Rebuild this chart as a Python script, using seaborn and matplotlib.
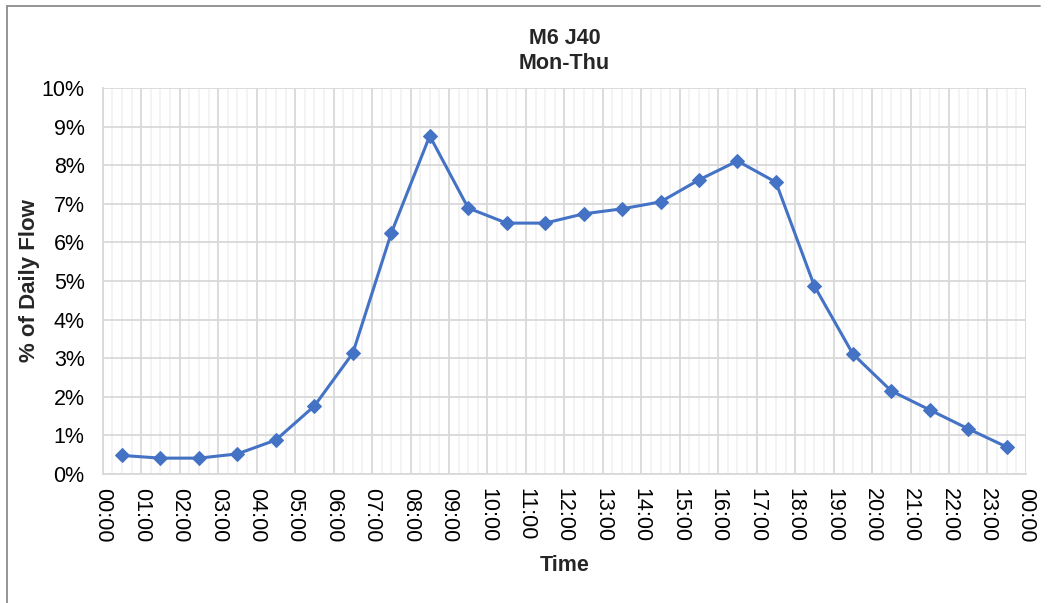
import matplotlib
matplotlib.use("Agg")
import matplotlib.pyplot as plt
import seaborn as sns
import pandas as pd
from matplotlib.ticker import MultipleLocator, FuncFormatter
from matplotlib.lines import Line2D

title = "M6 J40\nMon-Thu"
hours = [h + 0.5 for h in range(24)]
flow_pct = [0.48, 0.41, 0.41, 0.52, 0.88, 1.76, 3.13, 6.24, 8.76, 6.89, 6.50, 6.50,
            6.74, 6.87, 7.05, 7.62, 8.11, 7.56, 4.87, 3.11, 2.15, 1.66, 1.17, 0.70]
tick_hours = list(range(25))
tick_labels = [f"{h % 24:02d}:00" for h in tick_hours]

df = pd.DataFrame({"hour": hours, "flow": flow_pct})

sns.set_theme(style="white")
plt.rcParams['font.family'] = ['Liberation Sans', 'DejaVu Sans']

fig = plt.figure(figsize=(10.49, 6.03), dpi=100)
ax = fig.add_axes([0.098, 0.214, 0.880, 0.640])

sns.lineplot(data=df, x="hour", y="flow", ax=ax, color="#4472C4", marker="D",
             markersize=7.5, markeredgecolor="#4472C4", linewidth=2.2)

ax.set_xlim(0, 24)
ax.set_ylim(0, 10)
ax.set_xticks(tick_hours)
ax.set_xticklabels(tick_labels, rotation=-90, fontsize=15.5, color="#000000")
ax.xaxis.set_minor_locator(MultipleLocator(0.25))
ax.yaxis.set_major_locator(MultipleLocator(1))
ax.yaxis.set_major_formatter(FuncFormatter(lambda v, p: f"{int(round(v))}%"))
ax.tick_params(axis="y", labelsize=15.5, colors="#000000", length=0, pad=13)
ax.tick_params(axis="x", which="both", length=0, pad=10)

ax.grid(True, which="major", color="#D9D9D9", linewidth=1.3)
ax.grid(True, which="minor", axis="x", color="#F0F0F0", linewidth=1.1)
ax.set_axisbelow(True)
for s in ax.spines.values():
    s.set_visible(False)
ax.spines["left"].set_visible(True)
ax.spines["bottom"].set_visible(True)
ax.spines["left"].set_color("#D9D9D9")
ax.spines["bottom"].set_color("#D9D9D9")
ax.spines["left"].set_linewidth(1.3)
ax.spines["bottom"].set_linewidth(1.3)

ax.set_title(title, fontsize=15.5, fontweight="bold", pad=14, linespacing=1.25)
ax.set_xlabel("Time", fontsize=15.5, fontweight="bold", labelpad=9)
ax.set_ylabel("% of Daily Flow", fontsize=16, fontweight="bold", labelpad=1)

# figure frame: only top and left edges visible
W, H = 1049, 603
fig.add_artist(Line2D([7 / W, 1040 / W], [1 - 5.5 / H, 1 - 5.5 / H], transform=fig.transFigure,
                      color="#8C8C8C", linewidth=1.3))
fig.add_artist(Line2D([7 / W, 7 / W], [0, 1 - 5.5 / H], transform=fig.transFigure,
                      color="#8C8C8C", linewidth=1.3))

fig.savefig("out.png", dpi=100, facecolor="white")
